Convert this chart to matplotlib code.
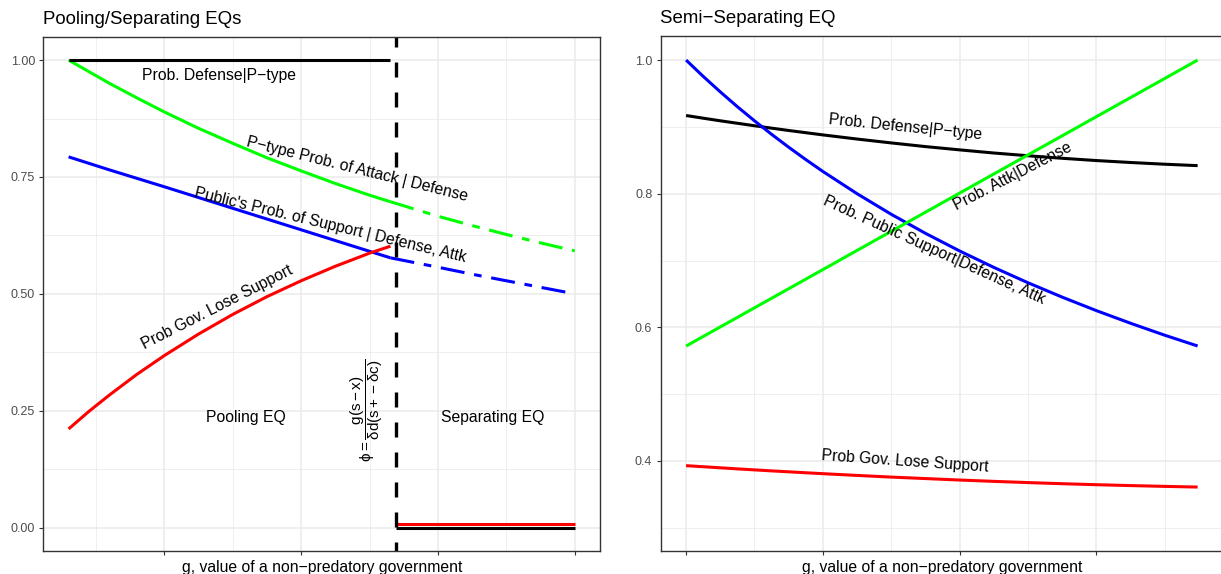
import numpy as np
import matplotlib
matplotlib.use("Agg")
import matplotlib.pyplot as plt

plt.rcParams['font.family'] = ['Liberation Sans', 'DejaVu Sans']
plt.rcParams['mathtext.fontset'] = 'custom'
plt.rcParams['mathtext.rm'] = 'Liberation Sans'
plt.rcParams['mathtext.it'] = 'Liberation Sans'

# ---- left panel: pooling / separating ----
g_pool = [0.30, 0.45, 0.60, 0.80, 1.00, 1.25, 1.50, 1.75, 2.00, 2.25, 2.50, 2.653]
g_sep = [2.653, 3.00, 3.25, 3.50, 3.75, 4.00]
g_cut = 2.694

def_pool = [1.0] * len(g_pool)
attk_pool = [1.000, 0.975, 0.950, 0.919, 0.889, 0.854, 0.822, 0.791, 0.763, 0.736, 0.711, 0.697]
attk_sep = [0.697, 0.666, 0.646, 0.627, 0.609, 0.592]
supp_pool = [0.793, 0.779, 0.765, 0.747, 0.729, 0.706, 0.683, 0.660, 0.637, 0.614, 0.591, 0.577]
supp_sep = [0.577, 0.557, 0.542, 0.528, 0.514, 0.500]
lose_pool = [0.211, 0.249, 0.284, 0.328, 0.368, 0.414, 0.456, 0.494, 0.528, 0.559, 0.587, 0.602]
g_sep_flat = [g_cut, 4.00]
lose_sep = [0.008, 0.008]
def_sep = [0.0, 0.0]

# ---- right panel: semi-separating ----
g_semi = [0.0, 0.125, 0.25, 0.375, 0.5, 0.625, 0.75, 0.875, 1.0, 1.25, 1.5, 1.75,
          2.0, 2.25, 2.5, 2.75, 3.0, 3.25, 3.5, 3.74]
semi_def = [0.9170, 0.9130, 0.9091, 0.9054, 0.9017, 0.8981, 0.8946, 0.8913, 0.8880, 0.8818,
            0.8760, 0.8705, 0.8656, 0.8609, 0.8568, 0.8530, 0.8496, 0.8467, 0.8441, 0.8420]
semi_supp = [1.0000, 0.9756, 0.9524, 0.9302, 0.9091, 0.8889, 0.8696, 0.8511, 0.8333, 0.8000,
             0.7692, 0.7407, 0.7143, 0.6897, 0.6667, 0.6452, 0.6250, 0.6061, 0.5882, 0.5721]
semi_attk = [0.5720, 0.5863, 0.6006, 0.6149, 0.6292, 0.6435, 0.6578, 0.6721, 0.6864, 0.7151,
             0.7437, 0.7723, 0.8009, 0.8295, 0.8581, 0.8867, 0.9153, 0.9439, 0.9725, 1.0000]
semi_lose = [0.3930, 0.3914, 0.3898, 0.3882, 0.3867, 0.3852, 0.3838, 0.3824, 0.3810, 0.3784,
             0.3759, 0.3737, 0.3715, 0.3695, 0.3677, 0.3660, 0.3645, 0.3632, 0.3620, 0.3610]

W, H = 1221, 574
fig = plt.figure(figsize=(W / 100, H / 100), dpi=100)

def px_axes(x0, x1, y0, y1):
    return fig.add_axes([x0 / W, (H - y1) / H, (x1 - x0) / W, (y1 - y0) / H])

ax1 = px_axes(43.3, 600.3, 36.7, 551)
ax2 = px_axes(660.5, 1223.2, 36.0, 551)

LW = 2.2
DASHDOT = (0, (7.9, 3.2, 2.5, 3.2))
FS = 11.3
solid = dict(lw=LW, solid_capstyle='butt', solid_joinstyle='round')
dashed = dict(lw=LW, ls=DASHDOT, dash_capstyle='butt', dash_joinstyle='round')

# left curves
ax1.plot(g_pool, attk_pool, color='#00FF00', **solid)
ax1.plot(g_sep, attk_sep, color='#00FF00', **dashed)
ax1.plot(g_pool, supp_pool, color='#0000FF', **solid)
ax1.plot(g_sep, supp_sep, color='#0000FF', **dashed)
ax1.plot(g_pool, def_pool, color='black', **solid)
ax1.plot(g_pool, lose_pool, color='#FF0000', **solid)
ax1.plot(g_sep_flat, lose_sep, color='#FF0000', **solid)
ax1.plot(g_sep_flat, def_sep, color='black', **solid)
ax1.plot([g_cut, g_cut], [1.05, -0.05], color='black', lw=2.4,
         ls=(1.5, (4.5, 4.5)), dash_capstyle='butt')

ax1.set_xlim(0.115, 4.187)
ax1.set_ylim(-0.05, 1.05)
ax1.set_xticks([1, 2, 3, 4])
ax1.set_xticks([0.5, 1.5, 2.5, 3.5], minor=True)
ax1.set_yticks([0, 0.25, 0.5, 0.75, 1.0])
ax1.set_yticklabels(['0.00', '0.25', '0.50', '0.75', '1.00'])
ax1.set_yticks([0.125, 0.375, 0.625, 0.875], minor=True)

ax1.text(1.397, 0.957, 'Prob. Defense|P\u2212type', ha='center', va='baseline', fontsize=FS)
ax1.text(2.401, 0.757, 'P\u2212type Prob. of Attack | Defense', ha='center', va='baseline',
         rotation=-14, rotation_mode='anchor', fontsize=FS)
ax1.text(2.206, 0.637, "Public's Prob. of Support | Defense, Attk", ha='center', va='baseline',
         rotation=-13.5, rotation_mode='anchor', fontsize=FS)
ax1.text(1.403, 0.463, 'Prob Gov. Lose Support', ha='center', va='baseline',
         rotation=27, rotation_mode='anchor', fontsize=FS)
ax1.text(1.596, 0.225, 'Pooling EQ', ha='center', va='baseline', fontsize=FS)
ax1.text(3.398, 0.225, 'Separating EQ', ha='center', va='baseline', fontsize=FS)
ax1.text(2.475, 0.25, r'$\phi = \dfrac{g(s - x)}{\delta d(s + - \delta c)}$',
         ha='center', va='center', rotation=90, fontsize=11)

# right curves
ax2.plot(g_semi, semi_def, color='black', **solid)
ax2.plot(g_semi, semi_supp, color='#0000FF', **solid)
ax2.plot(g_semi, semi_attk, color='#00FF00', **solid)
ax2.plot(g_semi, semi_lose, color='#FF0000', **solid)

ax2.set_xlim(-0.187, 3.927)
ax2.set_ylim(0.2653, 1.036)
ax2.set_xticks([0, 1, 2, 3])
ax2.set_xticks([0.5, 1.5, 2.5, 3.5], minor=True)
ax2.set_yticks([0.4, 0.6, 0.8, 1.0])
ax2.set_yticklabels(['0.4', '0.6', '0.8', '1.0'])
ax2.set_yticks([0.3, 0.5, 0.7, 0.9], minor=True)

ax2.text(1.599, 0.893, 'Prob. Defense|P\u2212type', ha='center', va='baseline',
         rotation=-5.7, rotation_mode='anchor', fontsize=FS)
ax2.text(2.404, 0.820, 'Prob. Attk|Defense', ha='center', va='baseline',
         rotation=27.3, rotation_mode='anchor', fontsize=FS)
ax2.text(1.798, 0.7097, 'Prob. Public Support|Defense, Attk', ha='center', va='baseline',
         rotation=-24.4, rotation_mode='anchor', fontsize=FS)
ax2.text(1.599, 0.393, 'Prob Gov. Lose Support', ha='center', va='baseline',
         rotation=-4, rotation_mode='anchor', fontsize=FS)

for ax, title in [(ax1, 'Pooling/Separating EQs'), (ax2, 'Semi\u2212Separating EQ')]:
    ax.set_xticklabels([])
    ax.grid(which='major', color='#EBEBEB', lw=1.1)
    ax.grid(which='minor', color='#EBEBEB', lw=0.55)
    ax.set_axisbelow(True)
    ax.tick_params(which='major', length=2.9, width=0.8, color='#333333',
                   labelcolor='#4D4D4D', labelsize=9, pad=3)
    ax.tick_params(which='minor', length=0)
    for s in ax.spines.values():
        s.set_color('#333333')
        s.set_linewidth(1.0)
    ax.annotate(title, xy=(0, 1), xycoords='axes fraction', xytext=(0, 9.1),
                textcoords='offset points', ha='left', va='baseline', fontsize=13.4)
    ax.annotate('g, value of a non\u2212predatory government', xy=(0.5, 0),
                xycoords='axes fraction', xytext=(0, -15.1), textcoords='offset points',
                ha='center', va='baseline', fontsize=FS)

fig.savefig('out.png', dpi=100)
